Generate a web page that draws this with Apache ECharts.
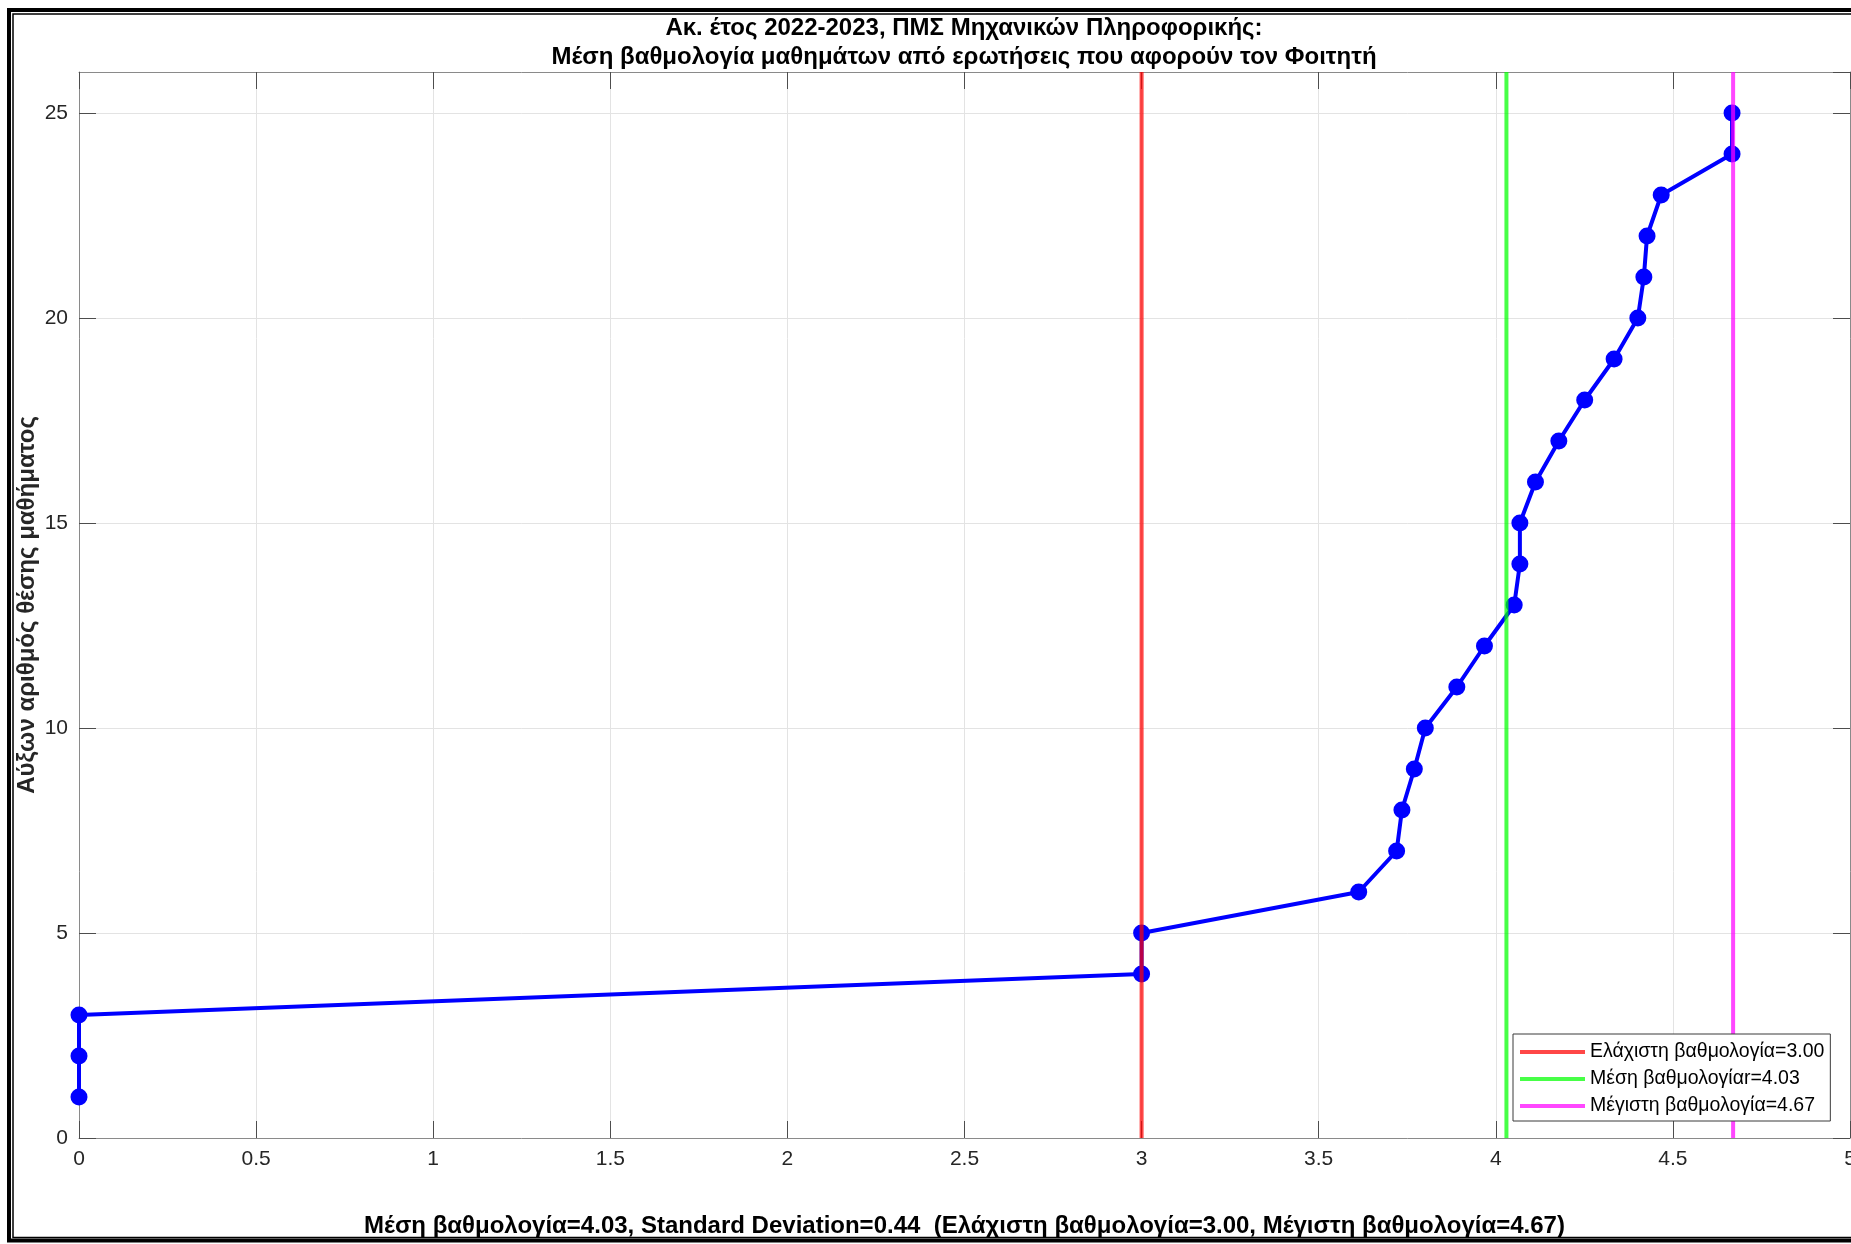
<!DOCTYPE html>
<html>
<head>
<meta charset="utf-8">
<title>Μέση βαθμολογία μαθημάτων</title>
<script src="https://cdn.jsdelivr.net/npm/echarts@6/dist/echarts.min.js"></script>
<style>
  html, body { margin: 0; padding: 0; background: #ffffff; }
  #chart { width: 1851px; height: 1244px; }
</style>
</head>
<body>
<div id="chart"></div>
<script>
// Course rank (y) against the course's mean score (x)
const rankPositions = [1, 2, 3, 4, 5, 6, 7, 8, 9, 10, 11, 12, 13, 14, 15, 16, 17, 18, 19, 20, 21, 22, 23, 24, 25];
const meanScores = [0, 0, 0, 3.00, 3.00, 3.613, 3.72, 3.735, 3.77, 3.801, 3.89, 3.968, 4.052, 4.068, 4.068,
                    4.112, 4.178, 4.251, 4.334, 4.401, 4.418, 4.427, 4.467, 4.667, 4.667];

// Summary statistics
const minScore = 3.00;
const meanScore = 4.03;
const maxScore = 4.67;
const stdDeviation = 0.44;

// Axis ranges and tick steps
const xRange = [0, 5];
const xStep = 0.5;
const yRange = [0, 26];
const yStep = 5;

const titleLines = [
  'Ακ. έτος 2022-2023, ΠΜΣ Μηχανικών Πληροφορικής:',
  'Μέση βαθμολογία μαθημάτων από ερωτήσεις που αφορούν τον Φοιτητή'
];
const yAxisTitle = 'Αύξων αριθμός θέσης μαθήματος';
const xAxisTitle = 'Μέση βαθμολογία=' + meanScore.toFixed(2) +
  ', Standard Deviation=' + stdDeviation.toFixed(2) +
  '  (Ελάχιστη βαθμολογία=' + minScore.toFixed(2) +
  ', Μέγιστη βαθμολογία=' + maxScore.toFixed(2) + ')';

const minName = 'Ελάχιστη βαθμολογία=' + minScore.toFixed(2);
const meanName = 'Μέση βαθμολογίαr=' + meanScore.toFixed(2);
const maxName = 'Μέγιστη βαθμολογία=' + maxScore.toFixed(2);

const FONT = '"Liberation Sans", Arial, Helvetica, sans-serif';
const AXIS_GRAY = '#8a8a8a';
const TICK_DARK = '#4d4d4d';
const LABEL = '#262626';

function verticalAt(x) {
  return [[x, yRange[0]], [x, yRange[1]]];
}

const points = rankPositions.map((r, i) => [meanScores[i], r]);

const boxAxisCommon = {
  axisLine: { show: true, onZero: false, lineStyle: { color: AXIS_GRAY, width: 1 } },
  axisTick: { show: true, inside: true, length: 17, lineStyle: { color: TICK_DARK, width: 1 } },
  axisLabel: { show: false },
  splitLine: { show: false }
};

const chart = echarts.init(document.getElementById('chart'), null, { renderer: 'canvas' });

chart.setOption({
  animation: false,
  backgroundColor: '#ffffff',
  textStyle: { fontFamily: FONT },
  grid: { left: 79, right: 1, top: 72, bottom: 106, containLabel: false, outerBoundsMode: 'none' },
  xAxis: [
    {
      type: 'value', position: 'bottom',
      min: xRange[0], max: xRange[1], interval: xStep,
      axisLine: { show: true, onZero: false, lineStyle: { color: AXIS_GRAY, width: 1 } },
      axisTick: { show: true, inside: true, length: 17, lineStyle: { color: TICK_DARK, width: 1 } },
      axisLabel: { color: LABEL, fontSize: 21, fontFamily: FONT, margin: 11,
                   formatter: v => String(+v.toFixed(1)) },
      splitLine: { show: true, lineStyle: { color: '#e3e3e3', width: 1 } },
      name: xAxisTitle, nameLocation: 'middle', nameGap: 76, nameMoveOverlap: false,
      nameTextStyle: { color: '#000', fontSize: 24, fontWeight: 'bold', fontFamily: FONT }
    },
    Object.assign({ type: 'value', position: 'top', min: xRange[0], max: xRange[1], interval: xStep }, boxAxisCommon)
  ],
  yAxis: [
    {
      type: 'value', position: 'left',
      min: yRange[0], max: yRange[1], interval: yStep,
      axisLine: { show: true, onZero: false, lineStyle: { color: AXIS_GRAY, width: 1 } },
      axisTick: { show: true, inside: true, length: 17, lineStyle: { color: TICK_DARK, width: 1 } },
      axisLabel: { color: LABEL, fontSize: 21, fontFamily: FONT, margin: 11, showMaxLabel: false },
      splitLine: { show: true, lineStyle: { color: '#e3e3e3', width: 1 } },
      name: yAxisTitle, nameLocation: 'middle', nameGap: 40, nameRotate: 90, nameMoveOverlap: false,
      nameTextStyle: { color: '#262626', fontSize: 24, fontWeight: 'bold', fontFamily: FONT }
    },
    Object.assign({ type: 'value', position: 'right', min: yRange[0], max: yRange[1], interval: yStep }, boxAxisCommon)
  ],
  legend: {
    orient: 'vertical',
    left: 1513, top: 1034,
    padding: [8, 6, 5, 7],
    itemGap: 7,
    itemWidth: 65, itemHeight: 4,
    icon: 'rect',
    backgroundColor: '#ffffff',
    borderColor: '#3a3a3a', borderWidth: 1, borderRadius: 0,
    textStyle: { color: '#000', fontSize: 19.5, fontFamily: FONT, lineHeight: 19 },
    data: [minName, meanName, maxName]
  },
  series: [
    {
      name: 'courses',
      type: 'line',
      data: points,
      color: '#0000ff',
      symbol: 'circle', symbolSize: 17,
      lineStyle: { color: '#0000ff', width: 4 },
      itemStyle: { color: '#0000ff' },
      clip: false,
      z: 2
    },
    {
      name: minName, type: 'line', data: verticalAt(minScore),
      color: 'rgba(255,0,0,0.72)', symbol: 'none',
      lineStyle: { color: 'rgba(255,0,0,0.72)', width: 4 }, z: 3
    },
    {
      name: meanName, type: 'line', data: verticalAt(meanScore),
      color: 'rgba(0,255,0,0.72)', symbol: 'none',
      lineStyle: { color: 'rgba(0,255,0,0.72)', width: 4 }, z: 3
    },
    {
      name: maxName, type: 'line', data: verticalAt(maxScore),
      color: 'rgba(255,0,255,0.72)', symbol: 'none',
      lineStyle: { color: 'rgba(255,0,255,0.72)', width: 4 }, z: 3
    }
  ],
  graphic: [
    {
      type: 'text', x: 964, y: 28, z: 10,
      style: { text: titleLines[0], fill: '#000', font: 'bold 24px ' + FONT,
               textAlign: 'center', textVerticalAlign: 'middle' }
    },
    {
      type: 'text', x: 964, y: 57, z: 10,
      style: { text: titleLines[1], fill: '#000', font: 'bold 24px ' + FONT,
               textAlign: 'center', textVerticalAlign: 'middle' }
    },
    {
      // outer heavy figure border
      type: 'rect', z: 20, silent: true,
      shape: { x: 9, y: 10, width: 1900, height: 1230.5 },
      style: { fill: 'none', stroke: '#000', lineWidth: 4 }
    },
    {
      // inner thin figure border
      type: 'rect', z: 20, silent: true,
      shape: { x: 13, y: 14, width: 1900, height: 1223.5 },
      style: { fill: 'none', stroke: '#000', lineWidth: 1.5 }
    }
  ]
});
</script>
</body>
</html>
